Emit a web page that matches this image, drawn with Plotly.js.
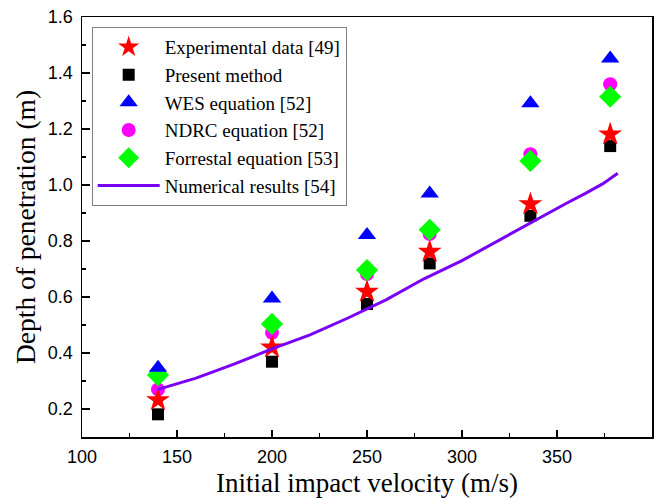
<!DOCTYPE html>
<html>
<head>
<meta charset="utf-8">
<script src="https://cdn.plot.ly/plotly-3.0.1.min.js"></script>
<style>html,body{margin:0;padding:0;background:#fff;}#chart{width:667px;height:498px;}</style>
</head>
<body>
<div id="chart"></div>
<script>
// Data
const velocity = [140, 200, 250, 283, 336, 378];
const experimental = [0.232, 0.42, 0.619, 0.762, 0.932, 1.181];
const presentMethod = [0.181, 0.369, 0.575, 0.72, 0.89, 1.139];
const wesEquation = [0.347, 0.595, 0.821, 0.97, 1.292, 1.452];
const ndrcEquation = [0.27, 0.472, 0.682, 0.825, 1.11, 1.36];
const forrestalEquation = [0.321, 0.504, 0.696, 0.84, 1.086, 1.315];
const numericalVelocity = [140, 160, 180, 200, 220, 240, 260, 280, 300, 320, 340, 355, 365, 374, 382];
const numericalDepth = [0.27, 0.31, 0.36, 0.415, 0.465, 0.525, 0.59, 0.665, 0.73, 0.805, 0.88, 0.935, 0.97, 1.004, 1.042];

const seriesNames = ["Experimental data [49]", "Present method", "WES equation [52]", "NDRC equation [52]", "Forrestal equation [53]", "Numerical results [54]"];

function markerTrace(name, y, symbol, color, size, group) {
  return {
    x: velocity, y: y, name: name, type: "scatter", mode: "markers",
    legendgroup: group,
    marker: {symbol: symbol, color: color, size: size, line: {width: 0}}
  };
}

const traces = [
  markerTrace(seriesNames[1], presentMethod, "square", "#000000", 12, "g2"),
  markerTrace(seriesNames[3], ndrcEquation, "circle", "#ff00ff", 14, "g4"),
  markerTrace(seriesNames[0], experimental, "star", "#ff0000", 18, "g1"),
  markerTrace(seriesNames[4], forrestalEquation, "diamond", "#00ff00", 17, "g5"),
  markerTrace(seriesNames[2], wesEquation, "triangle-up", "#0000ff", 16, "g3"),
  {
    x: numericalVelocity, y: numericalDepth, name: seriesNames[5], type: "scatter", mode: "lines",
    legendgroup: "g6",
    line: {color: "#7a00f5", width: 3}
  }
];
// order in legend
const legendRank = {g1: 1, g2: 2, g3: 3, g4: 4, g5: 5, g6: 6};
traces.forEach(t => { t.legendrank = legendRank[t.legendgroup]; });

const serif = "'Liberation Serif', 'Times New Roman', serif";
const sans = "'Liberation Sans', Arial, sans-serif";
const tickFont = {family: sans, size: 18, color: "#000"};

const layout = {
  width: 667, height: 498,
  margin: {l: 82, r: 15, t: 17, b: 61},
  paper_bgcolor: "#fff", plot_bgcolor: "#fff",
  showlegend: true,
  legend: {
    x: 0.017, y: 0.976, xanchor: "left", yanchor: "top",
    bgcolor: "#fff", bordercolor: "#808080", borderwidth: 1,
    font: {family: serif, size: 19, color: "#000"},
    traceorder: "grouped", tracegroupgap: 0, itemwidth: 62
  },
  xaxis: {
    range: [100, 400], tickvals: [100, 150, 200, 250, 300, 350, 400],
    ticks: "inside", ticklen: 7, tickwidth: 1.5, tickcolor: "#000",
    minor: {dtick: 25, ticks: "inside", ticklen: 4, tickwidth: 1.5, tickcolor: "#000"},
    showline: true, linecolor: "#000", linewidth: 1.5, mirror: true,
    showgrid: false, zeroline: false, tickfont: tickFont, ticklabelstandoff: 3,
    title: {text: "Initial impact velocity (m/s)", font: {family: serif, size: 27, color: "#000"}, standoff: 10}
  },
  yaxis: {
    range: [0.1, 1.6], tickvals: [0.2, 0.4, 0.6, 0.8, 1.0, 1.2, 1.4, 1.6],
    tickformat: ".1f",
    ticks: "inside", ticklen: 8, tickwidth: 1.5, tickcolor: "#000",
    minor: {dtick: 0.1, ticks: "inside", ticklen: 4, tickwidth: 1.5, tickcolor: "#000"},
    showline: true, linecolor: "#000", linewidth: 1.5, mirror: true,
    showgrid: false, zeroline: false, tickfont: tickFont, ticklabelstandoff: 4,
    title: {text: "Depth of penetration (m)", font: {family: serif, size: 27.5, color: "#000"}, standoff: 4}
  }
};

Plotly.newPlot("chart", traces, layout, {displayModeBar: false, staticPlot: true});
</script>
</body>
</html>
